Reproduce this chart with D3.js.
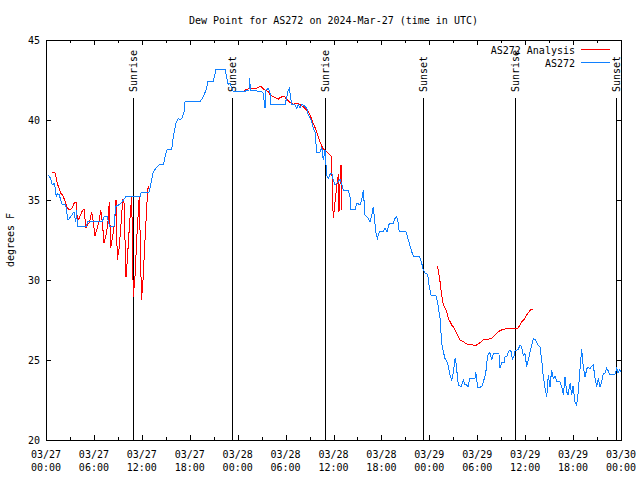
<!DOCTYPE html>
<html><head><meta charset="utf-8">
<script src="https://cdn.jsdelivr.net/npm/d3@7"></script>
<style>
body{margin:0;background:#fff}
svg text{font-family:"DejaVu Sans Mono","Liberation Mono",monospace;font-size:10px;fill:#000}
</style></head><body>
<svg id="chart" width="640" height="480"></svg>
<script>
const titleText = "Dew Point for AS272 on 2024-Mar-27 (time in UTC)";
const yAxisLabel = "degrees F";
const seriesNames = ["AS272 Analysis", "AS272"];
const seriesColors = ["#ff0000", "#1080ff"];
const yTickValues = [20, 25, 30, 35, 40, 45];
const xMajorHours = [0, 6, 12, 18, 24, 30, 36, 42, 48, 54, 60, 66, 72];
const xMinorHours = [3, 9, 15, 21, 27, 33, 39, 45, 51, 57, 63, 69];
const xTickDates = ["03/27","03/27","03/27","03/27","03/28","03/28","03/28","03/28","03/29","03/29","03/29","03/29","03/30"];
const xTickTimes = ["00:00","06:00","12:00","18:00","00:00","06:00","12:00","18:00","00:00","06:00","12:00","18:00","00:00"];
const sunNames = ["Sunrise","Sunset","Sunrise","Sunset","Sunrise","Sunset"];
const sunHours = [10.93, 23.25, 34.90, 47.25, 58.77, 71.34];

// AS272 observations: hours after 2024-03-27 00:00 UTC, dew point (F)
const obsHours = [0.29,0.59,0.79,1.00,1.13,1.29,1.41,1.63,2.04,2.47,2.75,3.09,3.51,3.72,3.84,3.92,5.10,5.17,7.05,7.26,7.68,7.98,8.51,8.73,9.14,9.55,9.98,11.86,11.90,12.90,13.02,13.31,13.44,13.77,14.19,14.69,14.90,15.11,15.74,15.94,16.28,16.57,16.78,17.03,17.28,17.41,19.28,19.70,20.12,20.25,20.95,21.29,22.41,22.70,22.83,23.04,23.45,24.92,24.98,25.42,25.46,25.63,27.01,27.21,27.42,27.55,27.84,28.05,28.14,29.93,30.34,30.47,30.64,30.77,31.18,31.39,31.59,31.81,32.02,32.31,32.65,32.85,33.27,33.47,33.68,33.90,34.31,34.52,34.72,34.94,35.15,35.35,35.56,35.78,35.98,36.19,36.60,36.81,37.03,37.23,37.85,38.07,38.19,38.69,38.91,39.32,39.53,39.73,39.95,40.36,40.57,40.76,40.98,41.11,41.29,41.49,41.74,42.24,42.45,42.70,42.99,43.49,43.70,43.92,44.08,44.24,45.08,45.37,45.79,45.99,46.75,47.05,47.25,47.46,47.80,47.96,48.21,48.84,49.05,49.34,49.55,49.75,49.96,50.30,50.59,50.80,51.00,51.22,51.34,51.50,51.63,51.97,52.26,52.47,52.68,52.84,53.09,53.72,53.81,53.91,54.06,54.56,54.89,55.06,55.31,55.60,55.81,56.01,56.72,56.85,57.06,57.35,57.48,57.73,57.89,58.10,58.29,58.39,58.64,58.73,59.14,59.35,59.54,59.77,59.98,60.19,60.48,60.82,61.02,61.32,61.57,61.86,62.07,62.27,62.49,62.70,62.90,63.11,63.32,63.53,63.74,63.95,64.36,64.58,64.78,64.99,65.20,65.37,65.62,65.83,65.99,66.24,66.45,66.66,66.87,67.08,67.28,67.49,67.78,68.12,68.53,68.75,68.96,69.16,69.37,69.59,69.79,70.00,70.21,70.42,70.63,71.25,71.47,71.63,71.82,72.00];
const obsTemps = [36.56,36.35,35.94,36.04,35.83,35.20,35.40,35.35,34.70,34.70,33.75,33.95,34.27,33.65,34.40,33.33,33.33,33.65,33.65,33.95,33.95,33.33,33.33,34.60,34.70,34.90,35.20,35.20,35.48,35.48,35.73,36.46,36.77,36.98,37.19,37.19,37.70,38.12,38.17,38.96,39.79,40.10,40.00,40.10,40.52,41.14,41.14,41.46,41.98,42.40,42.40,43.17,43.17,42.50,42.19,42.30,41.77,41.77,41.87,41.87,42.64,41.87,41.77,41.67,40.73,41.87,41.98,41.67,40.94,40.94,41.87,41.98,41.35,40.94,40.94,40.73,40.94,40.73,40.98,40.90,40.73,40.31,39.90,39.48,39.27,38.00,38.00,38.33,37.50,38.12,36.56,36.35,36.60,36.67,36.25,35.94,36.15,36.30,36.00,35.62,35.62,35.20,34.38,34.38,34.80,34.70,35.00,35.62,34.06,33.85,33.65,33.95,34.58,33.95,33.02,32.60,33.02,33.02,33.23,33.02,33.54,33.54,33.85,33.96,33.60,33.02,33.02,32.50,31.77,31.50,31.50,31.04,30.62,30.42,30.35,29.69,29.06,29.00,28.54,27.60,26.04,25.52,25.10,24.79,24.06,23.75,24.17,25.10,24.80,24.06,23.44,23.33,23.75,23.44,23.44,23.33,23.85,23.85,24.27,23.85,23.27,23.33,23.85,24.17,25.31,25.46,25.00,25.38,25.38,24.48,24.83,24.83,25.20,25.25,25.52,25.62,25.50,25.00,25.31,25.58,25.67,25.94,25.83,25.31,25.40,24.58,25.20,25.94,26.35,26.25,25.94,25.83,25.00,23.96,23.23,22.71,24.06,23.33,24.38,23.85,24.00,23.65,23.65,23.33,22.81,23.96,23.02,22.81,23.54,22.81,23.40,22.40,22.19,23.02,24.48,25.67,24.58,23.96,24.54,24.48,24.69,23.85,23.33,23.85,23.33,23.65,24.17,24.17,24.48,24.30,24.06,24.10,24.48,24.20,24.40,24.25];

// AS272 Analysis: null marks a gap
const anaHours = [0.79,1.09,1.25,1.41,1.63,1.84,2.09,2.25,2.47,2.67,2.94,3.22,3.51,3.79,3.92,4.17,4.47,4.76,5.01,5.17,5.45,5.72,5.92,6.14,6.42,6.67,6.85,7.10,7.26,7.51,7.73,7.93,8.10,8.35,8.58,8.77,8.93,9.18,9.35,9.60,9.77,10.02,10.18,10.46,10.73,10.93,11.14,11.40,11.68,11.96,12.15,12.40,12.69,12.81,
  null,
  24.79,25.33,25.96,26.42,26.88,27.21,27.42,27.84,28.05,28.46,28.89,29.09,29.30,29.80,30.22,30.55,30.97,31.31,31.68,32.22,32.85,33.15,33.47,33.81,34.10,34.31,34.65,35.15,35.78,35.85,35.98,36.19,36.35,36.48,36.63,36.69,36.81,36.94,37.03,
  null,
  48.92,49.05,49.21,49.34,49.46,49.55,49.75,49.96,50.18,50.38,50.59,50.80,51.13,51.43,51.63,51.84,52.26,52.68,53.09,53.47,53.72,53.93,54.35,54.76,55.19,55.81,56.22,56.64,57.06,57.48,57.69,59.07,59.35,59.57,59.89,60.19,60.48,60.73,61.02];
const anaTemps = [36.73,36.73,36.46,36.04,35.73,35.42,35.30,35.10,34.79,34.48,34.40,34.45,34.80,34.85,33.75,33.85,34.27,34.44,33.23,33.45,33.60,34.27,33.65,32.77,33.23,33.75,34.38,33.37,32.29,32.81,33.44,34.90,32.00,32.73,33.50,35.00,31.25,32.08,33.23,34.96,34.80,30.20,31.25,33.50,35.20,28.96,30.20,32.90,35.25,28.75,30.00,32.50,35.30,35.90,
  null,
  41.85,41.94,41.94,42.00,42.12,41.94,41.87,41.77,41.56,41.46,41.35,41.29,41.40,41.50,41.25,41.10,40.98,41.04,41.00,40.83,40.52,40.20,39.79,39.38,38.96,38.65,38.23,38.02,37.71,35.30,33.85,34.90,35.60,36.15,36.60,34.27,35.94,37.19,34.38,
  null,
  30.88,30.83,30.31,29.90,29.38,29.06,28.44,28.23,28.02,27.60,27.40,27.19,26.98,26.67,26.46,26.25,26.15,26.00,25.94,25.94,25.88,25.94,26.08,26.25,26.29,26.35,26.56,26.77,26.88,26.94,26.98,26.98,27.19,27.40,27.54,27.81,28.02,28.17,28.17];

const t0 = Date.UTC(2024, 2, 27, 0, 0);
const toDate = h => new Date(t0 + h * 3600e3);

const svg = d3.select("#chart");
const L = 46, R = 621, T = 40, B = 440;
const x = d3.scaleUtc().domain([toDate(0), toDate(72)]).range([L, R]);
const y = d3.scaleLinear().domain([20, 45]).range([B, T]);

// sunrise / sunset markers
const sun = svg.append("g");
sunNames.forEach((n, i) => {
  const sx = Math.round(x(toDate(sunHours[i]))) + 0.5;
  sun.append("line").attr("x1", sx).attr("x2", sx).attr("y1", 98).attr("y2", B)
    .attr("stroke", "#000").attr("shape-rendering", "crispEdges");
  sun.append("text").attr("transform", `translate(${sx},92) rotate(-90)`)
    .attr("dy", "0.35em").attr("text-anchor", "start").text(n);
});

// axes ticks
const crisp = g => g.attr("shape-rendering", "crispEdges");
svg.append("g").attr("transform", `translate(0,${B})`)
  .call(d3.axisBottom(x).tickValues(xMajorHours.map(toDate)).tickSize(-5).tickFormat(""))
  .call(g => g.select(".domain").remove()).call(crisp);
svg.append("g").attr("transform", `translate(0,${B})`)
  .call(d3.axisBottom(x).tickValues(xMinorHours.map(toDate)).tickSize(-3).tickFormat(""))
  .call(g => g.select(".domain").remove()).call(crisp);
svg.append("g").attr("transform", `translate(0,${T})`)
  .call(d3.axisTop(x).tickValues(xMajorHours.map(toDate)).tickSize(-5).tickFormat(""))
  .call(g => g.select(".domain").remove()).call(crisp);
svg.append("g").attr("transform", `translate(0,${T})`)
  .call(d3.axisTop(x).tickValues(xMinorHours.map(toDate)).tickSize(-3).tickFormat(""))
  .call(g => g.select(".domain").remove()).call(crisp);
svg.append("g").attr("transform", `translate(${L},0)`)
  .call(d3.axisLeft(y).tickValues(yTickValues).tickSize(-5).tickFormat(""))
  .call(g => g.select(".domain").remove()).call(crisp);
svg.append("g").attr("transform", `translate(${R},0)`)
  .call(d3.axisRight(y).tickValues(yTickValues).tickSize(-5).tickFormat(""))
  .call(g => g.select(".domain").remove()).call(crisp);

// tick labels
svg.append("g").selectAll("text").data(yTickValues).join("text")
  .attr("x", 40).attr("y", d => y(d)).attr("dy", "0.35em").attr("text-anchor", "end").text(d => d);
const xl = svg.append("g").selectAll("text").data(xMajorHours).join("text")
  .attr("text-anchor", "middle");
xl.append("tspan").attr("x", d => x(toDate(d))).attr("y", 458).text((d, i) => xTickDates[i]);
xl.append("tspan").attr("x", d => x(toDate(d))).attr("y", 471).text((d, i) => xTickTimes[i]);

// data lines
const line = d3.line().defined(d => d[0] != null).x(d => x(toDate(d[0]))).y(d => y(d[1]));
svg.append("path").datum(anaHours.map((h, i) => [h, anaTemps[i]]))
  .attr("d", line).attr("fill", "none").attr("stroke", seriesColors[0]).attr("stroke-width", 1)
  .attr("shape-rendering", "crispEdges");
svg.append("path").datum(obsHours.map((h, i) => [h, obsTemps[i]]))
  .attr("d", line).attr("fill", "none").attr("stroke", seriesColors[1]).attr("stroke-width", 1)
  .attr("shape-rendering", "crispEdges");

// frame
svg.append("rect").attr("x", L + 0.5).attr("y", T + 0.5).attr("width", R - L).attr("height", B - T)
  .attr("fill", "none").attr("stroke", "#000").attr("shape-rendering", "crispEdges");

// title and axis label
svg.append("text").attr("x", (L + R) / 2).attr("y", 24).attr("text-anchor", "middle").text(titleText);
svg.append("text").attr("transform", `translate(10,240) rotate(-90)`).attr("dy", "0.35em")
  .attr("text-anchor", "middle").text(yAxisLabel);

// legend
seriesNames.forEach((n, i) => {
  const ly = 50 + i * 13;
  svg.append("text").attr("x", 575).attr("y", ly).attr("dy", "0.35em").attr("text-anchor", "end").text(n);
  svg.append("line").attr("x1", 581).attr("x2", 610).attr("y1", ly - 0.5).attr("y2", ly - 0.5)
    .attr("stroke", seriesColors[i]).attr("shape-rendering", "crispEdges");
});
</script></body></html>
